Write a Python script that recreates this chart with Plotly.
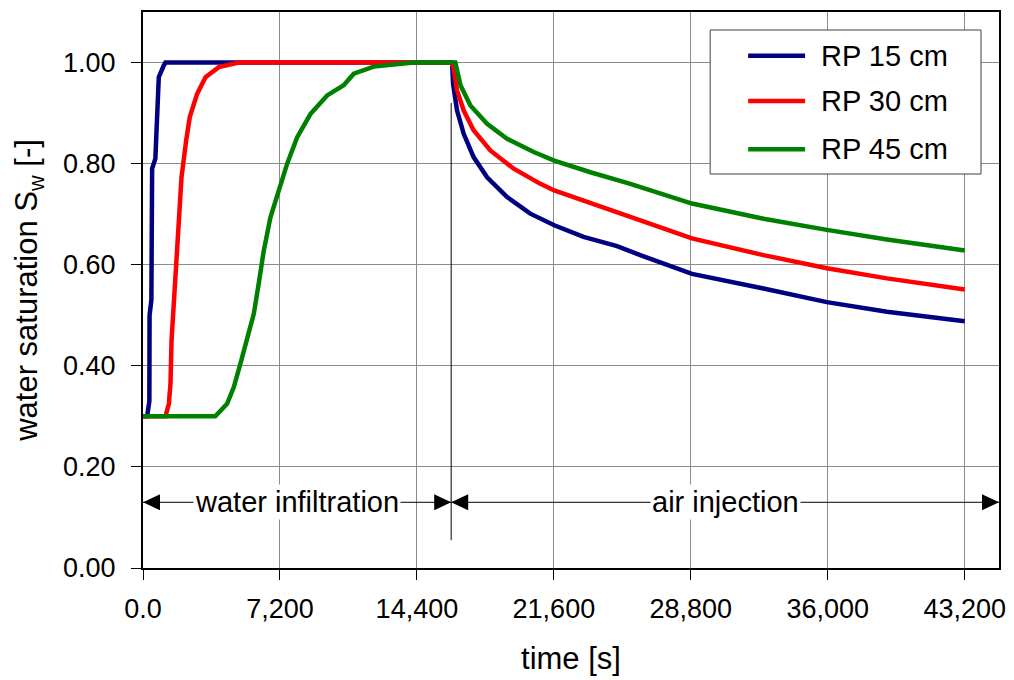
import plotly.graph_objects as go

# Water saturation measured at three reference points (RP) over time
t_rp15 = [0, 220, 335, 345, 440, 480, 650, 745, 830, 1090, 1180,
          16200, 16250, 16300, 16510, 16860, 17380, 18090, 19140, 20360,
          21620, 23160, 24920, 26140, 28860, 32620, 35950, 39110, 43200]
sw_rp15 = [0.30, 0.30, 0.33, 0.50, 0.53, 0.79, 0.81, 0.925, 0.971, 0.994, 1.00,
           1.00, 1.00, 0.958, 0.905, 0.859, 0.813, 0.773, 0.734, 0.701,
           0.678, 0.655, 0.637, 0.619, 0.582, 0.553, 0.526, 0.507, 0.488]

t_rp30 = [0, 1180, 1360, 1445, 1500, 1675, 1795, 2025, 2270, 2460, 2845,
          3285, 3985, 5035,
          16200, 16330, 16510, 16860, 17380, 18260, 19490, 20890, 21620,
          23520, 25620, 28860, 32620, 35950, 39110, 43200]
sw_rp30 = [0.30, 0.30, 0.325, 0.365, 0.45, 0.563, 0.661, 0.773, 0.846, 0.892, 0.938,
           0.971, 0.991, 1.00,
           1.00, 0.99, 0.945, 0.905, 0.866, 0.826, 0.790, 0.760, 0.747,
           0.722, 0.694, 0.652, 0.619, 0.593, 0.573, 0.551]

t_rp45 = [0, 3800, 4420, 4775, 5125, 5475, 5825, 6085, 6350, 6700, 7140,
          7580, 8100, 8800, 9680, 10550, 11080, 12130, 14230,
          16420, 16690, 17210, 18090, 19140, 20540, 21620, 23520, 25620,
          28860, 32620, 35950, 39110, 43200]
sw_rp45 = [0.30, 0.30, 0.325, 0.358, 0.405, 0.451, 0.503, 0.563, 0.628, 0.694, 0.747,
           0.80, 0.852, 0.898, 0.935, 0.955, 0.978, 0.992, 1.00,
           1.00, 0.955, 0.915, 0.879, 0.849, 0.823, 0.806, 0.783, 0.760,
           0.721, 0.691, 0.669, 0.650, 0.628]

series_names = ["RP 15 cm", "RP 30 cm", "RP 45 cm"]
series_colors = ["#000080", "#FF0000", "#008000"]
series_t = [t_rp15, t_rp30, t_rp45]
series_sw = [sw_rp15, sw_rp30, sw_rp45]

x_tick_vals = [0, 7200, 14400, 21600, 28800, 36000, 43200]
x_tick_text = ["0.0", "7,200", "14,400", "21,600", "28,800", "36,000", "43,200"]
y_tick_vals = [0.0, 0.2, 0.4, 0.6, 0.8, 1.0]

phase_switch = 16200     # end of infiltration / start of air injection [s]
time_end = 45000
phase_label_y = 0.13
phase_labels = ["water infiltration", "air injection"]

FONT = "Arial, Liberation Sans, sans-serif"
FS_TICK = 27
FS_TEXT = 29
FS_TITLE = 31

fig = go.Figure()
for name, color, t, sw in zip(series_names, series_colors, series_t, series_sw):
    fig.add_trace(go.Scatter(x=t, y=sw, mode="lines", name=name,
                             line=dict(color=color, width=4.5),
                             showlegend=False))

# plot-area geometry in pixels (used to place the legend box)
W, H = 1014, 680
ML, MR, MT, MB = 142.5, 15, 12, 112
PW, PH = W - ML - MR, H - MT - MB


def px(x):
    return (x - ML) / PW


def py(y):
    return (H - MB - y) / PH


shapes = []
annotations = []

# vertical marker at the phase switch
shapes.append(dict(type="line", xref="x", yref="y", x0=phase_switch, x1=phase_switch,
                   y0=0.055, y1=0.92, line=dict(color="black", width=1)))

# double-headed arrows spanning each phase: shaft + filled triangular heads
HEAD_L, HEAD_H = 17, 8
for a, b in [(0, phase_switch), (phase_switch, time_end)]:
    shapes.append(dict(type="line", xref="x", yref="y", x0=a, x1=b,
                       y0=phase_label_y, y1=phase_label_y,
                       line=dict(color="black", width=1)))
    for anchor, direction in [(a, 1), (b, -1)]:
        d = direction * HEAD_L
        shapes.append(dict(type="path", xref="x", yref="y",
                           xsizemode="pixel", ysizemode="pixel",
                           xanchor=anchor, yanchor=phase_label_y,
                           path=f"M0,0 L{d},{HEAD_H} L{d},{-HEAD_H} Z",
                           fillcolor="black", line=dict(width=0)))

for (a, b), label in zip([(0, phase_switch), (phase_switch, time_end)], phase_labels):
    annotations.append(dict(x=(a + b) / 2, y=phase_label_y, xref="x", yref="y",
                            text=label, showarrow=False, bgcolor="white",
                            borderpad=1,
                            font=dict(family=FONT, size=FS_TEXT, color="black")))

# legend box
shapes.append(dict(type="rect", xref="paper", yref="paper",
                   x0=px(710), x1=px(981), y0=py(174), y1=py(30),
                   fillcolor="white", line=dict(color="#404040", width=1), layer="above"))
for name, color, ly in zip(series_names, series_colors, [55.7, 101, 149.3]):
    shapes.append(dict(type="line", xref="paper", yref="paper",
                       x0=px(748), x1=px(805), y0=py(ly), y1=py(ly),
                       line=dict(color=color, width=4.5), layer="above"))
    annotations.append(dict(x=px(819), y=py(ly), xref="paper", yref="paper",
                            xanchor="left", yanchor="middle", text=name,
                            showarrow=False,
                            font=dict(family=FONT, size=FS_TEXT, color="black")))

fig.update_layout(
    width=W, height=H,
    margin=dict(l=ML, r=MR, t=MT, b=MB, autoexpand=False),
    paper_bgcolor="white", plot_bgcolor="white",
    font=dict(family=FONT, size=FS_TICK, color="black"),
    shapes=shapes, annotations=annotations,
    xaxis=dict(range=[0, time_end], tickvals=x_tick_vals, ticktext=x_tick_text,
               showgrid=True, gridcolor="#8c8c8c", gridwidth=1,
               showline=True, linecolor="black", linewidth=2, mirror=True,
               ticks="outside", ticklen=10, tickwidth=1, tickcolor="black",
               ticklabelstandoff=6, zeroline=False,
               tickfont=dict(family=FONT, size=FS_TICK),
               title=dict(text="time [s]", standoff=24,
                          font=dict(family=FONT, size=FS_TITLE))),
    yaxis=dict(range=[0, 1.1], tickvals=y_tick_vals, tickformat=".2f",
               showgrid=True, gridcolor="#8c8c8c", gridwidth=1,
               showline=True, linecolor="black", linewidth=2, mirror=True,
               ticks="outside", ticklen=10, tickwidth=1, tickcolor="black",
               ticklabelstandoff=10, zeroline=False,
               tickfont=dict(family=FONT, size=FS_TICK),
               title=dict(text="water saturation S<sub>w</sub> [-]", standoff=16,
                          font=dict(family=FONT, size=FS_TITLE))),
)

fig.write_html("out.html")
